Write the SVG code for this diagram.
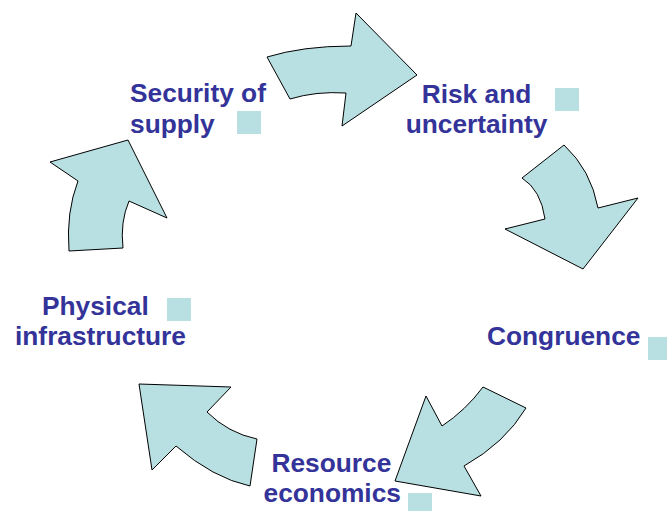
<svg xmlns="http://www.w3.org/2000/svg" width="667" height="511" viewBox="0 0 667 511">
<style>
.arrow{fill:#B8E0E2;stroke:#000;stroke-width:1;stroke-linejoin:miter}
.lbl{font-family:"Liberation Sans",Arial,sans-serif;font-weight:bold;font-size:26.3px;fill:#333399}
.sq{fill:#B8E0E2}
</style>
<rect width="667" height="511" fill="#fff"/>
<g id="connectors">
<path class="arrow" d="M267,57 Q303,46 351,46 L356,13 L417,75 L342,126 L346,93 Q316,91 290,99 Z"/>
<path class="arrow" d="M564,145 Q591,170 598,208 L638,198 L583,269 L505,229 L545,219 Q541,190 522,178 Z"/>
<path class="arrow" d="M526,408 Q505,443 464,466 L481,496 L395,481 L426,396 L442,426 Q466,410 483,387 Z"/>
<path class="arrow" d="M250,486 Q213,478 176,446 L152,470 L139,384 L231,387 L207,412 Q228,433 257,439 Z"/>
<path class="arrow" d="M69,251 Q66,212 78,181 L50,162 L128,140 L167,218 L129,201 Q120,222 123,248 Z"/>
</g>
<g id="security">
<text class="lbl" x="130" y="102">Security of</text>
<text class="lbl" x="130" y="133">supply</text>
<rect class="sq" x="237" y="111" width="24" height="23"/>
</g>
<g id="risk">
<text class="lbl" x="476.5" y="102.5" text-anchor="middle">Risk and</text>
<text class="lbl" x="476.5" y="133" text-anchor="middle">uncertainty</text>
<rect class="sq" x="555" y="88" width="24" height="23"/>
</g>
<g id="congruence">
<text class="lbl" x="487" y="344.5">Congruence</text>
<rect class="sq" x="648" y="337" width="24" height="23"/>
</g>
<g id="resource">
<text class="lbl" x="271.5" y="472">Resource</text>
<text class="lbl" x="263.5" y="502">economics</text>
<rect class="sq" x="408" y="493" width="24" height="23"/>
</g>
<g id="physical">
<text class="lbl" x="42" y="314.5">Physical</text>
<text class="lbl" x="15" y="345">infrastructure</text>
<rect class="sq" x="167" y="298" width="24" height="23"/>
</g>
</svg>
